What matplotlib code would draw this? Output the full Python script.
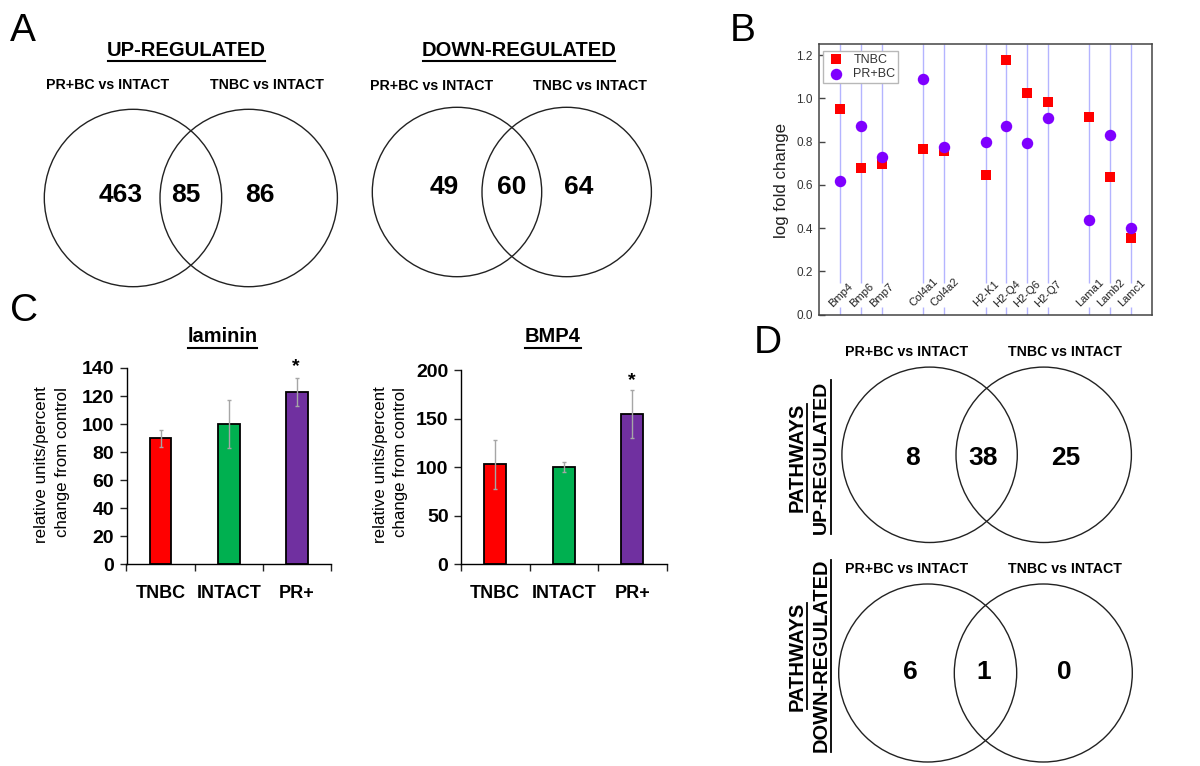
#!/usr/bin/env python3
# -*- coding: utf-8 -*-
"""Four panel figure: venn diagrams, log fold change dots and bar charts"""

import matplotlib
matplotlib.use("Agg")
import matplotlib.pyplot as plt
from matplotlib.patches import Circle

plt.rcParams['font.family'] = ['Liberation Sans', 'DejaVu Sans']

W, H = 1200, 766

# Panel A
up_counts = [463, 85, 86]
down_counts = [49, 60, 64]

# Panel B
genes = ['Bmp4', 'Bmp6', 'Bmp7', 'Col4a1', 'Col4a2', 'H2-K1', 'H2-Q4', 'H2-Q6',
         'H2-Q7', 'Lama1', 'Lamb2', 'Lamc1']
gene_pos = [0, 1, 2, 4, 5, 7, 8, 9, 10, 12, 13, 14]
tnbc_fold = [0.95, 0.68, 0.695, 0.765, 0.755, 0.645, 1.178, 1.025, 0.985, 0.915, 0.635, 0.355]
prbc_fold = [0.62, 0.873, 0.73, 1.088, 0.773, 0.798, 0.872, 0.793, 0.91, 0.44, 0.83, 0.40]

# Panel C
groups = ['TNBC', 'INTACT', 'PR+']
bar_colors = ['#ff0000', '#00b050', '#7030a0']
laminin_vals = [90, 100, 123]
laminin_err = [6, 17, 10]
bmp4_vals = [103, 100, 155]
bmp4_err = [25, 5, 25]

# Panel D
path_up_counts = [8, 38, 25]
path_down_counts = [6, 1, 0]


def px_axes(fig, left, top, right, bottom):
    """ピクセル座標で軸を作る"""
    return fig.add_axes([left / W, 1 - bottom / H, (right - left) / W, (bottom - top) / H])


def draw_venn(ov, c1, c2, cy, r, counts, text_xy, fs=19):
    for cx in (c1, c2):
        ov.add_patch(Circle((cx, cy), r, fill=False, ec='#222222', lw=1.0))
    for n, (tx, ty) in zip(counts, text_xy):
        ov.text(tx, ty, str(n), fontsize=fs, fontweight='bold', ha='center', va='center')


def draw_bars(ax, vals, errs, ymax, step):
    x = range(len(vals))
    ax.bar(x, vals, width=0.32, color=bar_colors, edgecolor='black', linewidth=1.3, zorder=2)
    ax.errorbar(x, vals, yerr=errs, fmt='none', ecolor='#a6a6a6', elinewidth=1.0,
                capsize=1.5, capthick=1.0, zorder=3)
    ax.set_xlim(-0.5, 2.5)
    ax.set_ylim(0, ymax)
    ax.set_yticks(range(0, ymax + 1, step))
    ax.set_xticks([-0.5, 0.5, 1.5, 2.5])
    ax.set_xticklabels([])
    ax.tick_params(axis='both', direction='out', length=5, width=1.0, color='#222222')
    ax.tick_params(axis='y', labelsize=14, pad=4)
    for lab in ax.get_yticklabels():
        lab.set_fontweight('bold')
    ax.spines['top'].set_visible(False)
    ax.spines['right'].set_visible(False)
    for s in ('left', 'bottom'):
        ax.spines[s].set_linewidth(1.0)
    for i, g in enumerate(groups):
        ax.annotate(g, (i, 0), xytext=(0, -21), xycoords=('data', 'axes fraction'),
                    textcoords='offset points', ha='center', va='center',
                    fontsize=13, fontweight='bold')


fig = plt.figure(figsize=(W / 100, H / 100), dpi=100, facecolor='white')

# 全体に重ねるピクセル座標の軸
ov = fig.add_axes([0, 0, 1, 1], zorder=5)
ov.set_xlim(0, W)
ov.set_ylim(H, 0)
ov.axis('off')

# パネル文字
for letter, lx, ly in [('A', 23, 31), ('B', 743, 31), ('C', 24, 311), ('D', 768, 343)]:
    ov.text(lx, ly, letter, fontsize=28, ha='center', va='center')

# Panel A
for title, tx, x0, x1 in [('UP-REGULATED', 186.5, 108, 265), ('DOWN-REGULATED', 519, 423, 615)]:
    ov.text(tx, 50.5, title, fontsize=14.5, fontweight='bold', ha='center', va='center')
    ov.plot([x0, x1], [60.5, 60.5], color='black', lw=1.5)
for label, tx, ty in [('PR+BC vs INTACT', 108, 85), ('TNBC vs INTACT', 267, 85),
                      ('PR+BC vs INTACT', 431.5, 86), ('TNBC vs INTACT', 590, 86)]:
    ov.text(tx, ty, label, fontsize=10.2, fontweight='bold', ha='center', va='center')
draw_venn(ov, 133, 248.7, 198, 88.7, up_counts, [(121, 195.5), (186.3, 195.5), (260, 195.5)])
draw_venn(ov, 457, 566.7, 192, 84.7, down_counts, [(444, 186.5), (511.3, 186.5), (579, 186.5)])

# Panel B
ax_b = px_axes(fig, 819.5, 44.3, 1151.7, 314.7)
ax_b.vlines(gene_pos, 0.145, 1.25, color='#b4b4ff', lw=1.0, zorder=1)
ax_b.vlines(gene_pos, 0, 0.035, color='#b4b4ff', lw=1.0, zorder=1)
ax_b.scatter(gene_pos, tnbc_fold, marker='s', s=52, color='#ff0000', linewidths=0, zorder=3, label='TNBC')
ax_b.scatter(gene_pos, prbc_fold, marker='o', s=68, color='#7f00ff', linewidths=0, zorder=4, label='PR+BC')
ax_b.set_xlim(-1, 15)
ax_b.set_ylim(0, 1.25)
ax_b.set_yticks([0, 0.2, 0.4, 0.6, 0.8, 1.0, 1.2])
ax_b.set_yticklabels(['0.0', '0.2', '0.4', '0.6', '0.8', '1.0', '1.2'])
ax_b.set_xticks([])
ax_b.tick_params(axis='y', direction='in', length=4, width=1.0, labelsize=8.5,
                 color='#444444', labelcolor='#333333', pad=5)
for s in ax_b.spines.values():
    s.set_color('#444444')
    s.set_linewidth(1.1)
for g, p in zip(genes, gene_pos):
    ax_b.text(p + 0.02, 0.028, g, fontsize=8, rotation=45, ha='center', va='bottom',
              rotation_mode='default', color='#222222', zorder=5)
ax_b.legend(loc='upper left', bbox_to_anchor=(0.012, 0.975), borderaxespad=0, frameon=True,
            fancybox=False, edgecolor='#b8b8b8', framealpha=1, fontsize=9, handletextpad=0.6,
            labelspacing=0.2, borderpad=0.2, handlelength=1.6, labelcolor='#333333')
ov.text(781.5, 180, 'log fold change', fontsize=12.2, rotation=90, ha='center', va='center', color='#222222')

# Panel C
ax_lam = px_axes(fig, 126.5, 368, 331, 564.3)
draw_bars(ax_lam, laminin_vals, laminin_err, 140, 20)
ax_bmp = px_axes(fig, 461, 370.3, 666.5, 564.3)
draw_bars(ax_bmp, bmp4_vals, bmp4_err, 200, 50)

for title, tx, x0, x1 in [('laminin', 222.5, 188, 257), ('BMP4', 553, 525, 581)]:
    ov.text(tx, 337, title, fontsize=14.5, fontweight='bold', ha='center', va='center')
    ov.plot([x0, x1], [347.5, 347.5], color='black', lw=1.5)
for x1, x2 in [(42, 63), (380, 400)]:
    ov.text(x1, 465, 'relative units/percent', fontsize=12.2, rotation=90, ha='center', va='center')
    ov.text(x2, 462, 'change from control', fontsize=12.2, rotation=90, ha='center', va='center')
ov.text(295.5, 367, '*', fontsize=14, fontweight='bold', ha='center', va='center')
ov.text(632, 381, '*', fontsize=14, fontweight='bold', ha='center', va='center')

# Panel D
for label, tx, ty in [('PR+BC vs INTACT', 907, 352), ('TNBC vs INTACT', 1065, 352),
                      ('PR+BC vs INTACT', 907, 569), ('TNBC vs INTACT', 1065, 569)]:
    ov.text(tx, ty, label, fontsize=10.2, fontweight='bold', ha='center', va='center')
draw_venn(ov, 929.6, 1043.7, 454.8, 87.7, path_up_counts, [(912, 458), (983, 458), (1066, 458)])
draw_venn(ov, 927.7, 1043.3, 673, 89, path_down_counts, [(910, 672), (983.5, 672), (1064, 672)])

for word, tx, ty, fs in [('PATHWAYS', 797, 457.5, 14.5), ('UP-REGULATED', 821.5, 457, 14),
                         ('PATHWAYS', 797, 656, 14.5), ('DOWN-REGULATED', 821.5, 655, 14.4)]:
    ov.text(tx, ty, word, fontsize=fs, fontweight='bold', rotation=90, ha='center', va='center')
for lx, y0, y1 in [(807, 404, 512), (831, 380, 534), (807, 603, 709), (831, 560, 752)]:
    ov.plot([lx, lx], [y0, y1], color='black', lw=1.3)

fig.savefig('out.png', dpi=100, facecolor='white')
